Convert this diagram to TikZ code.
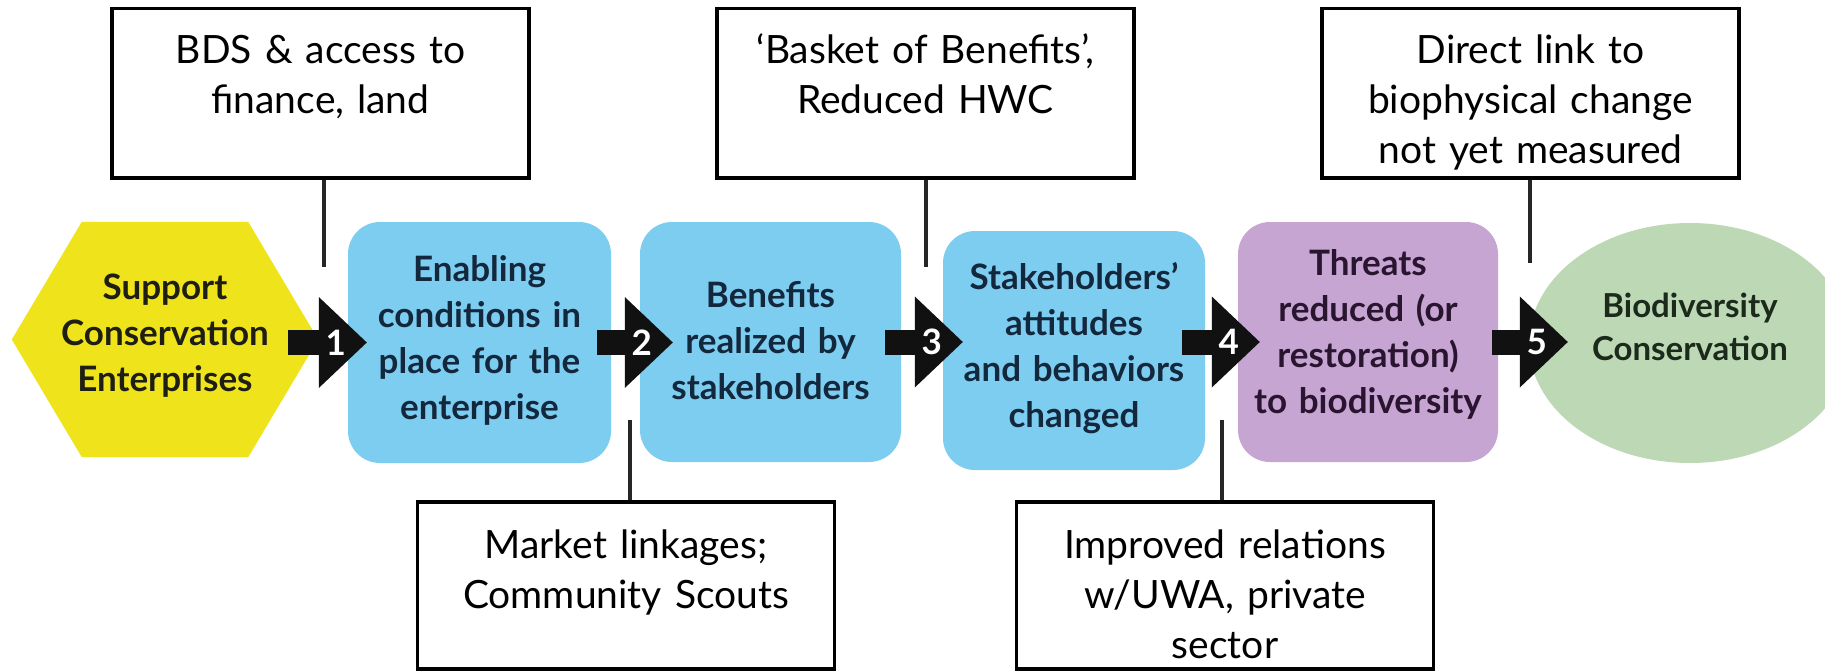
\documentclass[tikz,border=0pt]{standalone}
\usepackage{fontspec}
\setmainfont{Lato}
\usetikzlibrary{shapes.geometric,arrows.meta,backgrounds}
\definecolor{hexyellow}{HTML}{EFE41B}
\definecolor{boxblue}{HTML}{7DCDF1}
\definecolor{boxpurple}{HTML}{C7A5D3}
\definecolor{ellgreen}{HTML}{BDD8B5}
\definecolor{navytext}{HTML}{13273D}
\definecolor{purpletext}{HTML}{2A1530}
\definecolor{greentext}{HTML}{1B2A1B}
\definecolor{hextext}{HTML}{1E1E14}
\definecolor{arrowblack}{HTML}{111111}
\definecolor{linkgray}{HTML}{262626}
\tikzset{
  callout/.style={draw=black, line width=3.5pt, fill=white, minimum width=417pt,
    text width=410pt, align=center, inner xsep=0pt, inner ysep=0pt,
    font=\fontsize{39}{50}\selectfont, text=black},
  topcall/.style={callout, text height=55.25pt, text depth=114.25pt},
  botcall/.style={callout, text height=56.25pt, text depth=111pt},
  stagetext/.style={text width=255pt, align=center, inner sep=0pt,
    font=\bfseries\fontsize{35}{46}\selectfont},
  bluebox/.style={stagetext, fill=boxblue, rounded corners=32pt, text=navytext},
  purplebox/.style={stagetext, fill=boxpurple, rounded corners=32pt, text=purpletext},
  greenell/.style={stagetext, ellipse, fill=ellgreen, text=greentext, text width=220pt,
    font=\bfseries\fontsize{33}{43}\selectfont},
  link/.style={draw=linkgray, line width=3.5pt},
  bigarrow/.style={draw=arrowblack, line width=25pt,
    -{Triangle[length=48pt,width=91pt,line width=0pt]}},
  num/.style={text=white, inner sep=0pt, font=\bfseries\fontsize{35}{35}\selectfont},
}
\begin{document}
\begin{tikzpicture}[x=1pt,y=-1pt]
\useasboundingbox (0,0) rectangle (1825,671);

% callout boxes
\node[topcall] (t1) at (320.5,93.5) {BDS \& access to\\finance, land};
\node[topcall] (t2) at (925.5,93.5) {‘Basket of Benefits’,\\Reduced HWC};
\node[topcall] (t3) at (1530.5,93.5) {Direct link to\\biophysical change\\not yet measured};
\node[botcall] (b1) at (626,585.375) {Market linkages;\\Community Scouts};
\node[botcall] (b2) at (1225,585.375) {Improved relations\\w/UWA, private\\sector};

% stages
\node[stagetext, text=hextext, minimum width=306pt, minimum height=235pt,
  text height=30pt, text depth=111pt] (hex) at (165,339.5) {Support\\Conservation\\Enterprises};
\node[bluebox, minimum width=263pt, minimum height=241pt, text height=30pt, text depth=153pt]
  (enab) at (479.5,342.5) {Enabling\\conditions in\\place for the\\enterprise};
\node[bluebox, minimum width=261pt, minimum height=240pt, text height=30pt, text depth=100pt]
  (benef) at (770.5,342) {Benefits\\realized by\\stakeholders};
\node[bluebox, minimum width=262pt, minimum height=239pt, text height=30pt, text depth=153pt]
  (stake) at (1074,350.5) {Stakeholders’\\attitudes\\and behaviors\\changed};
\node[purplebox, minimum width=260pt, minimum height=240pt, text height=30pt, text depth=164pt]
  (threat) at (1368,342) {Threats\\reduced (or\\restoration)\\to biodiversity};
\node[greenell, minimum width=322pt, minimum height=240pt, text height=30pt, text depth=82pt]
  (bio) at (1690,343) {Biodiversity\\Conservation};

\begin{scope}[on background layer]
  \fill[white] (0,0) rectangle (1825,671);
  \fill[hexyellow] (hex.west) -- ([xshift=70pt]hex.north west) -- ([xshift=-70pt]hex.north east)
    -- (hex.east) -- ([xshift=-70pt]hex.south east) -- ([xshift=70pt]hex.south west) -- cycle;
\end{scope}

% links from callouts
\coordinate (l1end) at (324,267);
\coordinate (l2end) at (926,267);
\coordinate (l3end) at (1530,263);
\coordinate (l4end) at (630,420);
\coordinate (l5end) at (1222,420);
\draw[link] (l1end |- t1.south) -- (l1end);
\draw[link] (l2end |- t2.south) -- (l2end);
\draw[link] (l3end |- t3.south) -- (l3end);
\draw[link] (l4end) -- (l4end |- b1.north);
\draw[link] (l5end) -- (l5end |- b2.north);

% block arrows
\draw[bigarrow] ([xshift=-30pt]hex.east |- enab.west) -- ([xshift=19pt]enab.west)
  node[num, pos=1, xshift=-31pt] (n1) {1};
\draw[bigarrow] ([xshift=-14pt]enab.east) -- ([xshift=33pt]benef.west |- enab.east)
  node[num, pos=1, xshift=-31pt] (n2) {2};
\draw[bigarrow] ([xshift=-16pt]benef.east) -- ([xshift=20pt]stake.west |- benef.east)
  node[num, pos=1, xshift=-31pt] (n3) {3};
\draw[bigarrow] ([xshift=-23pt]stake.east |- threat.west) -- ([xshift=22pt]threat.west)
  node[num, pos=1, xshift=-31pt] (n4) {4};
\draw[bigarrow] ([xshift=-6pt]threat.east) -- ([xshift=39pt]bio.west |- threat.east)
  node[num, pos=1, xshift=-31pt] (n5) {5};
\end{tikzpicture}
\end{document}
